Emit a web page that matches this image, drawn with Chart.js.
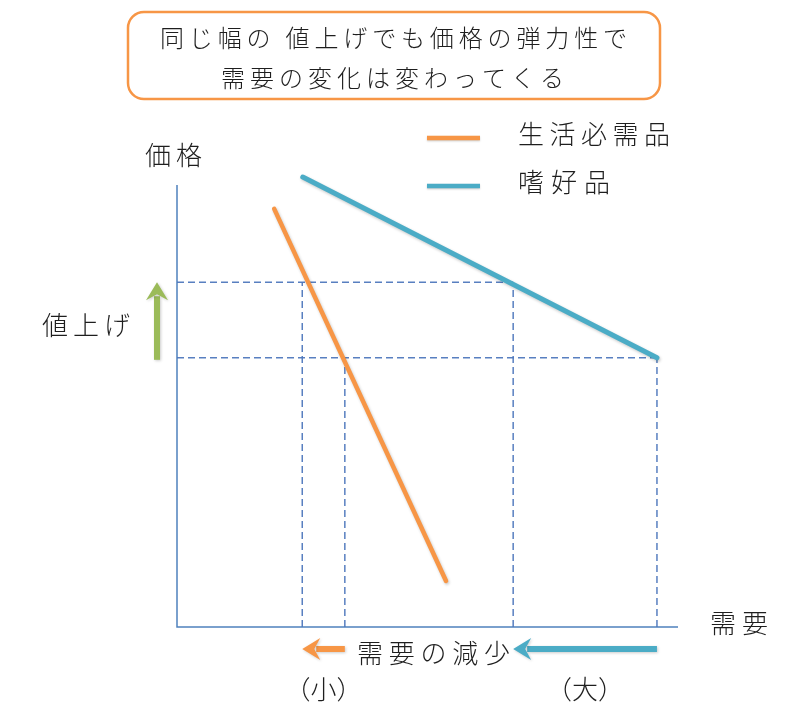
<!DOCTYPE html>
<html lang="ja">
<head>
<meta charset="utf-8">
<title>価格の弾力性と需要の変化</title>
<script src="https://cdn.jsdelivr.net/npm/chart.js@4.4.1/dist/chart.umd.min.js"></script>
<style>
  html, body { margin: 0; padding: 0; background: #fff; }
  .wrap { width: 800px; height: 712px; }
</style>
</head>
<body>
<div class="wrap"><canvas id="elasticityChart" width="800" height="712"></canvas></div>
<script>
// 系列名
const seriesNames = ['生活必需品', '嗜好品'];
// 需要曲線の端点 (x = 需要, y = 価格)
const necessityQty = [19.4, 53.7];
const necessityPrice = [94.6, 10.4];
const luxuryQty = [25.1, 95.8];
const luxuryPrice = [101.8, 60.9];
// 値上げ前と値上げ後の価格
const priceLevels = [60.9, 78.0];
// 値上げ前・後の需要 [生活必需品, 嗜好品]
const demandBefore = [33.5, 95.8];
const demandAfter = [25.0, 67.1];
// 文字
const titleLines = ['同じ幅の 値上げでも価格の弾力性で', '需要の変化は変わってくる'];
const axisTitles = ['価格', '需要'];
const priceUpLabel = '値上げ';
const demandDownLabel = '需要の減少';
const sizeLabels = ['（小）', '（大）'];

const orange = '#F79646';
const blue = '#4BACC6';
const axisBlue = '#4F81BD';
const green = '#9BBB59';
const textColor = '#1e1e1e';
const fontFamily = "'Noto Sans CJK JP', 'Noto Sans', sans-serif";

function points(xs, ys) {
    return xs.map((x, i) => ({ x: x, y: ys[i] }));
}

const datasets = [
    { label: seriesNames[0], data: points(necessityQty, necessityPrice), borderColor: orange, borderWidth: 4.5 },
    { label: seriesNames[1], data: points(luxuryQty, luxuryPrice), borderColor: blue, borderWidth: 5 }
].map(d => Object.assign(d, { pointRadius: 0, clip: false, order: 0, borderCapStyle: 'round' }));

// 補助線 (点線)
const guideStyle = { borderColor: 'rgba(79,120,189,0.95)', borderWidth: 1.5, borderDash: [7, 4], pointRadius: 0, clip: false, order: 5, guide: true };
datasets.push(Object.assign({ data: [{ x: 0, y: priceLevels[0] }, { x: demandBefore[1], y: priceLevels[0] }] }, guideStyle));
datasets.push(Object.assign({ data: [{ x: 0, y: priceLevels[1] }, { x: demandAfter[1], y: priceLevels[1] }] }, guideStyle));
demandBefore.forEach(q => datasets.push(Object.assign({ data: [{ x: q, y: 0 }, { x: q, y: priceLevels[0] }] }, guideStyle)));
demandAfter.forEach(q => datasets.push(Object.assign({ data: [{ x: q, y: 0 }, { x: q, y: priceLevels[1] }] }, guideStyle)));

// 文字幅を合わせて描く
function fitText(ctx, str, left, cy, size, width) {
    ctx.font = `300 ${size}px ${fontFamily}`;
    ctx.letterSpacing = '0px';
    const w0 = ctx.measureText(str).width;
    const n = Array.from(str).length;
    ctx.letterSpacing = (n > 1 ? (width - w0) / (n - 1) : 0) + 'px';
    ctx.textAlign = 'left';
    ctx.textBaseline = 'middle';
    ctx.fillStyle = textColor;
    ctx.fillText(str, left, cy);
    ctx.letterSpacing = '0px';
}

function centerText(ctx, str, cx, cy, size) {
    ctx.font = `300 ${size}px ${fontFamily}`;
    ctx.letterSpacing = '0px';
    ctx.textAlign = 'center';
    ctx.textBaseline = 'middle';
    ctx.fillStyle = textColor;
    ctx.fillText(str, cx, cy);
}

// 矢印 (尾 → 先)
function arrow(ctx, x1, y1, x2, y2, color) {
    const ang = Math.atan2(y2 - y1, x2 - x1);
    const head = 18, half = 11;
    ctx.save();
    ctx.translate(x2, y2);
    ctx.rotate(ang);
    const len = Math.hypot(x2 - x1, y2 - y1);
    ctx.shadowColor = 'rgba(0,0,0,0.2)';
    ctx.shadowBlur = 3;
    ctx.shadowOffsetX = 1;
    ctx.shadowOffsetY = 1;
    ctx.strokeStyle = color;
    ctx.lineWidth = 6;
    ctx.beginPath();
    ctx.moveTo(-len, 0);
    ctx.lineTo(-head + 4, 0);
    ctx.stroke();
    ctx.fillStyle = color;
    ctx.beginPath();
    ctx.moveTo(0, 0);
    ctx.lineTo(-head, -half);
    ctx.lineTo(-head + 6, 0);
    ctx.lineTo(-head, half);
    ctx.closePath();
    ctx.fill();
    ctx.restore();
}

const diagramPlugin = {
    id: 'diagram',
    beforeDatasetsDraw(chart) {
        const { ctx, scales: { x, y } } = chart;
        ctx.save();
        ctx.strokeStyle = axisBlue;
        ctx.lineWidth = 1.5;
        ctx.beginPath();
        ctx.moveTo(x.getPixelForValue(0), y.getPixelForValue(100));
        ctx.lineTo(x.getPixelForValue(0), y.getPixelForValue(0));
        ctx.lineTo(x.getPixelForValue(100), y.getPixelForValue(0));
        ctx.stroke();
        ctx.restore();
    },
    beforeDatasetDraw(chart, args) {
        const ds = chart.data.datasets[args.index];
        chart.ctx.save();
        if (!ds.guide) {
            chart.ctx.shadowColor = 'rgba(0,0,0,0.22)';
            chart.ctx.shadowBlur = 3;
            chart.ctx.shadowOffsetX = 1;
            chart.ctx.shadowOffsetY = 1.5;
        }
    },
    afterDatasetDraw(chart) {
        chart.ctx.restore();
    },
    afterDraw(chart) {
        const { ctx, chartArea, scales: { x, y } } = chart;
        ctx.save();

        // タイトル枠
        ctx.strokeStyle = orange;
        ctx.lineWidth = 2.5;
        ctx.beginPath();
        ctx.roundRect(128, 12, 532, 87, 16);
        ctx.stroke();
        fitText(ctx, titleLines[0], 160, 38, 24, 467);
        fitText(ctx, titleLines[1], 221, 78, 24, 343);

        // 凡例
        const ds = chart.data.datasets;
        [0, 1].forEach(i => {
            const cy = 134 + i * 48;
            ctx.save();
            ctx.strokeStyle = ds[i].borderColor;
            ctx.lineWidth = 4.5;
            ctx.shadowColor = 'rgba(0,0,0,0.2)';
            ctx.shadowBlur = 2;
            ctx.shadowOffsetY = 1;
            ctx.beginPath();
            ctx.moveTo(427, cy + 4);
            ctx.lineTo(480, cy + 4);
            ctx.stroke();
            ctx.restore();
            fitText(ctx, ds[i].label, 518, cy, 26, i === 0 ? 152 : 92);
        });

        // 軸ラベル
        fitText(ctx, axisTitles[0], 145, 155, 26, 57);
        fitText(ctx, axisTitles[1], 710, 623, 26, 58);

        // 値上げ
        const yLow = y.getPixelForValue(priceLevels[0]);
        const yHigh = y.getPixelForValue(priceLevels[1]);
        arrow(ctx, chartArea.left - 20, yLow + 2, chartArea.left - 20, yHigh, green);
        fitText(ctx, priceUpLabel, 42, 325, 26, 88);

        // 需要の減少
        const ay = chartArea.bottom + 22;
        arrow(ctx, x.getPixelForValue(demandBefore[0]), ay, x.getPixelForValue(demandAfter[0]), ay, orange);
        arrow(ctx, x.getPixelForValue(demandBefore[1]), ay, x.getPixelForValue(demandAfter[1]), ay, blue);
        fitText(ctx, demandDownLabel, 357, 653, 26, 153);
        [0, 1].forEach(i => {
            const cx = (x.getPixelForValue(demandBefore[i]) + x.getPixelForValue(demandAfter[i])) / 2;
            centerText(ctx, sizeLabels[i], cx, 689, 26);
        });

        ctx.restore();
    }
};

const chart = new Chart(document.getElementById('elasticityChart').getContext('2d'), {
    type: 'line',
    data: { datasets: datasets },
    options: {
        responsive: false,
        animation: false,
        layout: { padding: { left: 177, right: 122, top: 185, bottom: 85 } },
        scales: {
            x: { type: 'linear', min: 0, max: 100, display: false },
            y: { type: 'linear', min: 0, max: 100, display: false }
        },
        plugins: {
            legend: { display: false },
            tooltip: { enabled: false }
        }
    },
    plugins: [diagramPlugin]
});
</script>
</body>
</html>
